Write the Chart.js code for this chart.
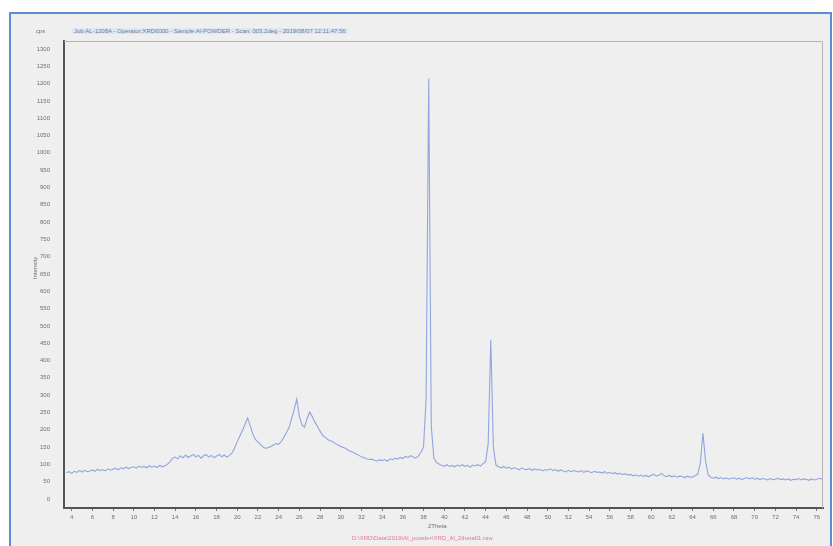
<!DOCTYPE html>
<html>
<head>
<meta charset="utf-8">
<script src="https://cdn.jsdelivr.net/npm/chart.js@4"></script>
<style>
  html, body { margin: 0; padding: 0; background: #fff; }
  #frame {
    position: absolute; left: 9px; top: 12px; width: 819px; height: 540px;
    border: 2px solid #5b8ed2; background: #efefef;
  }
  #wrap { position: absolute; left: 0; top: 0; width: 833px; height: 546px; }
  .txt { position: absolute; font-family: "Liberation Sans", Arial, sans-serif; font-size: 6px; color: #6b6f7a; white-space: nowrap; }
  #head { left: 72px; top: 28px; color: #6c7a98; background: #dfe7f3; padding: 0 2px; }
  #unit { left: 36px; top: 28px; }
  #ytitle { left: 24px; top: 265px; transform: rotate(-90deg); }
  #xtitle { left: 428px; top: 523px; }
  #file { left: 352px; top: 535px; color: #e07a90; }
</style>
</head>
<body>
<div id="frame"></div>
<div id="wrap"><canvas id="xrd" width="833" height="546"></canvas></div>
<div class="txt" id="unit">cps</div>
<div class="txt" id="head">Job:AL-1208A - Operator:XRD6000 - Sample:Al-POWDER - Scan: 003.2deg - 2019/08/07 12:11:47:56</div>
<div class="txt" id="ytitle">Intensity</div>
<div class="txt" id="xtitle">2Theta</div>
<div class="txt" id="file">D:\XRD\Data\2019\Al_powder\XRD_Al_2theta01.raw</div>
<script>
// XRD scan, 2-theta from 3.5 deg in 0.25 deg steps
const startAngle = 3.5;
const stepAngle = 0.25;

const intensity = [
    76, 79,
    74, 80, 77, 82,      // 4
    78, 83, 79, 81,      // 5
    84, 80, 86, 82,      // 6
    85, 81, 87, 83,      // 7
    86, 89, 84, 90,      // 8
    87, 92, 88, 91,      // 9
    93, 89, 95, 91,      // 10
    94, 90, 96, 92,      // 11
    95, 91, 97, 93,      // 12
    96, 100, 108, 118,   // 13
    121, 116, 125, 119,  // 14
    127, 120, 124, 129,  // 15
    122, 126, 118, 125,  // 16
    128, 121, 126, 119,  // 17
    124, 129, 122, 127,  // 18
    121, 126, 133, 148,  // 19
    165, 182, 198, 215,  // 20
    234, 212, 188, 172,  // 21
    165, 158, 150, 146,  // 22
    149, 152, 156, 160,  // 23
    158, 166, 178, 192,  // 24
    205, 232, 258, 288,  // 25
    240, 214, 208, 232,  // 26
    251, 238, 222, 210,  // 27
    196, 184, 178, 172,  // 28
    168, 165, 160, 156,  // 29
    152, 149, 146, 140,  // 30
    137, 134, 130, 126,  // 31
    122, 119, 116, 114,  // 32
    115, 112, 110, 113,  // 33
    111, 114, 109, 116,  // 34
    113, 118, 115, 120,  // 35
    117, 123, 120, 125,  // 36
    121, 118, 124, 135,  // 37
    150, 290, 1215, 210, // 38
    118, 106, 101, 97,   // 39
    95, 99, 94, 97,      // 40
    93, 98, 95, 99,      // 41
    94, 97, 92, 98,      // 42
    96, 99, 95, 102,     // 43
    108, 160, 460, 150,  // 44
    98, 93, 90, 94,      // 45
    89, 92, 87, 90,      // 46
    88, 84, 90, 86,      // 47
    85, 88, 83, 87,      // 48
    84, 86, 81, 85,      // 49
    83, 87, 82, 85,      // 50
    80, 84, 81, 78,      // 51
    83, 79, 82, 80,      // 52
    78, 82, 77, 81,      // 53
    79, 76, 80, 77,      // 54
    78, 75, 79, 74,      // 55
    77, 73, 76, 72,      // 56
    74, 70, 73, 69,      // 57
    71, 67, 70, 66,      // 58
    69, 65, 68, 64,      // 59
    68, 72, 66, 69,      // 60
    74, 67, 65, 68,      // 61
    64, 67, 63, 66,      // 62
    65, 62, 66, 63,      // 63
    64, 67, 72, 105,     // 64
    190, 110, 70, 63,    // 65
    60, 63, 59, 62,      // 66
    58, 61, 57, 60,      // 67
    61, 57, 60, 56,      // 68
    59, 62, 58, 61,      // 69
    57, 60, 56, 59,      // 70
    58, 55, 59, 56,      // 71
    57, 60, 56, 58,      // 72
    55, 58, 54, 57,      // 73
    56, 59, 55, 58,      // 74
    57, 54, 58, 55,      // 75
    57, 60, 58           // 76
];

const xTicks = [4, 6, 8, 10, 12, 14, 16, 18, 20, 22, 24, 26, 28, 30, 32, 34, 36, 38, 40,
    42, 44, 46, 48, 50, 52, 54, 56, 58, 60, 62, 64, 66, 68, 70, 72, 74, 76];
const yTicks = [0, 50, 100, 150, 200, 250, 300, 350, 400, 450, 500, 550, 600, 650, 700,
    750, 800, 850, 900, 950, 1000, 1050, 1100, 1150, 1200, 1250, 1300];

const points = intensity.map((v, i) => ({ x: startAngle + i * stepAngle, y: v }));

// light frame on top and right of the plot
const frameLines = {
    id: 'frameLines',
    afterDraw(chart) {
        const a = chart.chartArea;
        const c = chart.ctx;
        c.save();
        c.strokeStyle = '#b5b5b5';
        c.lineWidth = 1;
        c.beginPath();
        c.moveTo(a.left, a.top + 0.5);
        c.lineTo(a.right - 0.5, a.top + 0.5);
        c.lineTo(a.right - 0.5, a.bottom);
        c.stroke();
        c.restore();
    }
};

const tickFont = { family: '"Liberation Sans", Arial, sans-serif', size: 6 };

new Chart(document.getElementById('xrd'), {
    type: 'line',
    data: {
        datasets: [{
            data: points,
            borderColor: 'rgba(140,160,222,0.95)',
            borderWidth: 1.1,
            pointRadius: 0,
            tension: 0,
            fill: false
        }]
    },
    options: {
        responsive: false,
        animation: false,
        layout: { padding: { top: 41, right: 10, bottom: 0, left: 0 } },
        plugins: { legend: { display: false }, tooltip: { enabled: false } },
        scales: {
            x: {
                type: 'linear',
                min: 3.26,
                max: 76.6,
                afterBuildTicks: s => { s.ticks = xTicks.map(v => ({ value: v })); },
                afterFit: s => { s.height = 38; },
                grid: { display: true, drawOnChartArea: false, tickLength: 3, color: '#777' },
                border: { color: '#555', width: 2 },
                ticks: { font: tickFont, color: '#6b6f7a', padding: 3, maxRotation: 0, autoSkip: false, callback: v => String(v) }
            },
            y: {
                min: -26,
                max: 1323,
                afterBuildTicks: s => { s.ticks = yTicks.map(v => ({ value: v })); },
                afterFit: s => { s.width = 64; },
                grid: { display: false },
                border: { color: '#555', width: 2 },
                ticks: { font: tickFont, color: '#6b6f7a', padding: 6, autoSkip: false, callback: v => String(v) }
            }
        }
    },
    plugins: [frameLines]
});
</script>
</body>
</html>
